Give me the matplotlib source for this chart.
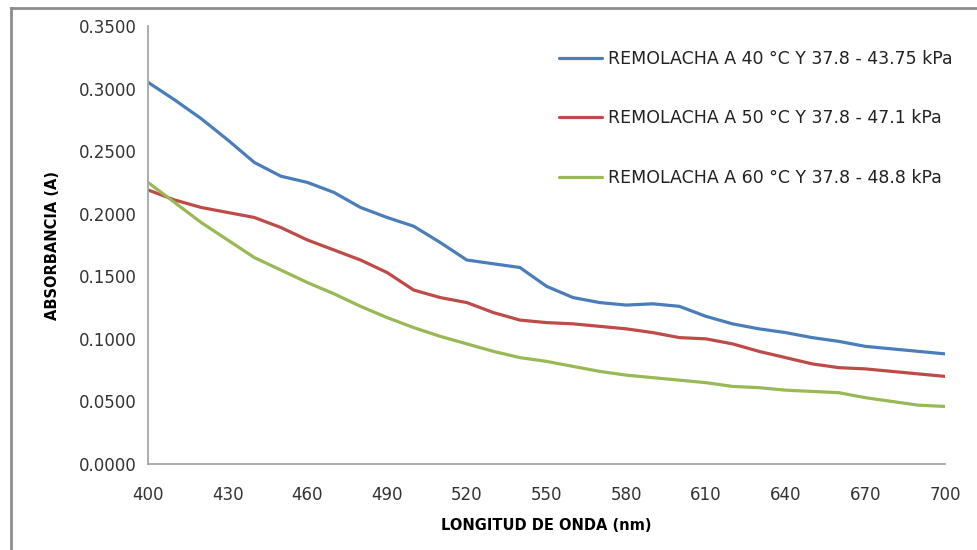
import matplotlib
matplotlib.use("Agg")
import matplotlib.pyplot as plt
from matplotlib.lines import Line2D

wavelength = [400, 410, 420, 430, 440, 450, 460, 470, 480, 490, 500, 510, 520, 530, 540,
              550, 560, 570, 580, 590, 600, 610, 620, 630, 640, 650, 660, 670, 680, 690, 700]
abs_40 = [0.305, 0.291, 0.276, 0.259, 0.241, 0.230, 0.225, 0.217, 0.205, 0.197, 0.190,
          0.177, 0.163, 0.160, 0.157, 0.142, 0.133, 0.129, 0.127, 0.128, 0.126, 0.118,
          0.112, 0.108, 0.105, 0.101, 0.098, 0.094, 0.092, 0.090, 0.088]
abs_50 = [0.219, 0.211, 0.205, 0.201, 0.197, 0.189, 0.179, 0.171, 0.163, 0.153, 0.139,
          0.133, 0.129, 0.121, 0.115, 0.113, 0.112, 0.110, 0.108, 0.105, 0.101, 0.100,
          0.096, 0.090, 0.085, 0.080, 0.077, 0.076, 0.074, 0.072, 0.070]
abs_60 = [0.225, 0.209, 0.193, 0.179, 0.165, 0.155, 0.145, 0.136, 0.126, 0.117, 0.109,
          0.102, 0.096, 0.090, 0.085, 0.082, 0.078, 0.074, 0.071, 0.069, 0.067, 0.065,
          0.062, 0.061, 0.059, 0.058, 0.057, 0.053, 0.050, 0.047, 0.046]
labels = ["REMOLACHA A 40 °C Y 37.8 - 43.75 kPa",
          "REMOLACHA A 50 °C Y 37.8 - 47.1 kPa",
          "REMOLACHA A 60 °C Y 37.8 - 48.8 kPa"]
colors = ["#4A7EBB", "#BE4B48", "#98B954"]
x_ticks = [400, 430, 460, 490, 520, 550, 580, 610, 640, 670, 700]
y_ticks = [0.0, 0.05, 0.10, 0.15, 0.20, 0.25, 0.30, 0.35]

plt.rcParams['font.family'] = ['DejaVu Sans']

fig = plt.figure(figsize=(9.77, 5.5), dpi=100)
ax = fig.add_axes([148/977, 1-464/550, (945-148)/977, (464-26)/550])

for ys, c, lab in zip([abs_40, abs_50, abs_60], colors, labels):
    ax.plot(wavelength, ys, color=c, lw=2.3, label=lab, solid_capstyle='round',
            solid_joinstyle='round')

ax.set_xlim(400, 700)
ax.set_ylim(0, 0.35)
ax.set_xticks(x_ticks)
ax.set_yticks(y_ticks)
ax.set_yticklabels([f"{v:.4f}" for v in y_ticks])
ax.tick_params(length=0, labelsize=12, colors="#333333")
ax.tick_params(axis='y', pad=8)
ax.tick_params(axis='x', pad=16)
for s in ['top', 'right']:
    ax.spines[s].set_visible(False)
for s in ['left', 'bottom']:
    ax.spines[s].set_color("#A6A6A6")
    ax.spines[s].set_linewidth(1.3)

ax.set_xlabel("LONGITUD DE ONDA (nm)", fontsize=10.5, fontweight='bold', labelpad=10)
ax.set_ylabel("ABSORBANCIA (A)", fontsize=10.5, fontweight='bold', labelpad=14)

leg = ax.legend(loc='upper left', bbox_to_anchor=(559/977, 1-50/550),
                bbox_transform=fig.transFigure, frameon=False, fontsize=12.5,
                handlelength=2.5, handletextpad=0.3, labelspacing=2.38,
                borderaxespad=0, borderpad=0)
for t in leg.get_texts():
    t.set_color("#222222")

# outer chart border (left and top)
fig.add_artist(Line2D([11/977, 11/977], [0, 1-8/550], transform=fig.transFigure,
                      color="#8C8C8C", lw=2))
fig.add_artist(Line2D([11/977, 1], [1-8/550, 1-8/550], transform=fig.transFigure,
                      color="#8C8C8C", lw=2))

fig.savefig("out.png", dpi=100)
